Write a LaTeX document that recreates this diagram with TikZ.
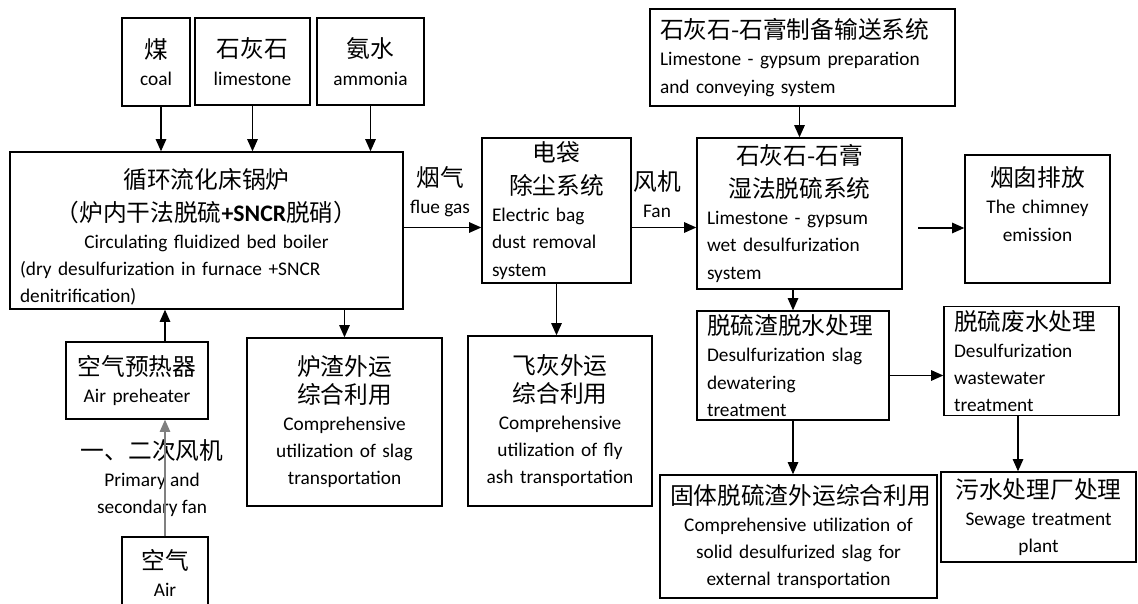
\documentclass[tikz,border=0pt]{standalone}
\usepackage{fontspec}
\setmainfont{Carlito}
\newfontfamily\cjk{Noto Sans CJK SC}
\usepackage{tikz}
\usetikzlibrary{arrows.meta}
\newcommand{\zh}{\cjk\fontsize{13.5}{18.5}\selectfont\lineskiplimit=-20pt}
\newcommand{\en}{\fontsize{11}{15.5}\selectfont\lineskiplimit=-20pt}
\newcommand{\lift}[1]{\rule[-#1]{0pt}{#1}}
\tikzset{
    box/.style={draw=black, line width=0.8pt, inner xsep=0.2cm, inner ysep=2pt, font=\en},
    cbox/.style={box, align=center},
    lbox/.style={box, align=left},
    flow/.style={draw=black, line width=0.8pt, -{Triangle[length=7pt,width=6pt]}},
    airflow/.style={flow, draw=black!50},
}

\begin{document}
\begin{tikzpicture}[x=0.02cm, y=-0.02cm]
\useasboundingbox (0,0) rectangle (1138,604);
	% inputs
	\node[cbox, text width=0.96cm, minimum height=1.76cm] (coal) at (156,62) {{\zh 煤}\\coal};
	\node[cbox, text width=1.90cm, minimum height=1.74cm] (lime) at (252.5,61.5) {{\zh 石灰石}\\limestone};
	\node[cbox, text width=1.74cm, minimum height=1.74cm] (ammo) at (370.5,61.5) {{\zh 氨水}\\ammonia};
	% boiler
	\node[lbox, text width=7.46cm, minimum height=3.06cm] (boiler) at (206.5,230.5)
		{{\centering\zh \rule{0pt}{0.66cm}循环流化床锅炉\\（炉内干法脱硫{\rmfamily\bfseries +SNCR}脱硝）\par}%
		{\centering Circulating fluidized bed boiler\par}%
		(dry desulfurization in furnace +SNCR\\denitrification)};
	\node[lbox, text width=2.58cm, minimum height=2.90cm] (dust) at (556.5,210.5)
		{{\centering\zh 电袋\\除尘系统\par}Electric bag\\dust removal\\system};
	\node[lbox, text width=5.70cm, minimum height=1.94cm] (prep) at (802.5,57.5)
		{{\zh 石灰石-石膏制备输送系统}\\Limestone - gypsum preparation\\and conveying system};
	\node[lbox, text width=3.70cm, minimum height=3.02cm] (gyp) at (799.5,213.5)
		{{\centering\zh 石灰石-石膏\\湿法脱硫系统\par}Limestone - gypsum\\wet desulfurization\\system};
	\node[cbox, text width=2.50cm, minimum height=2.56cm] (chim) at (1037.5,219)
		{{\zh 烟囱排放}\\The chimney\\emission\lift{0.6cm}};
	% lower row
	\node[cbox, text width=2.44cm, minimum height=1.54cm] (pre) at (137,380.5) {{\zh 空气预热器}\\Air preheater};
	\node[cbox, text width=1.32cm, minimum height=1.66cm] (air) at (165,578.5) {{\zh 空气}\\Air\lift{0.22cm}};
	\node[cbox, text width=3.50cm, minimum height=3.36cm] (slag) at (344.5,422)
		{{\zh 炉渣外运\\综合利用}\\Comprehensive\\utilization of slag\\transportation};
	\node[cbox, text width=3.28cm, minimum height=3.40cm] (fly) at (560,421)
		{{\zh 飞灰外运\\综合利用}\\Comprehensive\\utilization of fly\\ash transportation};
	\node[lbox, text width=3.44cm, minimum height=2.10cm] (dewater) at (793,365.5)
		{{\zh 脱硫渣脱水处理}\\Desulfurization slag\\dewatering\\treatment};
	\node[lbox, text width=3.10cm, minimum height=2.16cm] (waste) at (1031.5,361)
		{{\zh 脱硫废水处理}\\Desulfurization\\wastewater\\treatment};
	\node[cbox, text width=5.14cm, minimum height=2.46cm] (solid) at (798.5,536.5)
		{{\zh 固体脱硫渣外运综合利用}\\Comprehensive utilization of\\solid desulfurized slag for\\external transportation};
	\node[cbox, text width=3.50cm, minimum height=1.80cm] (sewage) at (1038.5,517)
		{{\zh 污水处理厂处理}\\Sewage treatment\\plant};
	% labels
	\node[align=center, font=\en] (fluelbl) at (440,192) {{\zh 烟气}\\flue gas};
	\node[align=center, font=\en] (fanlbl) at (657,194) {{\zh 风机}\\Fan};
	\node[align=center, font=\en, inner sep=0pt] (airlbl) at (152,478) {{\zh 一、二次风机}\\Primary and\\secondary fan};
	\coordinate (gypout) at (918,228);
	% connectors
	\draw[flow] ([xshift=0.1cm]coal.south) -- ([xshift=0.1cm]coal.south |- boiler.north);
	\draw[flow] (lime.south) -- (lime.south |- boiler.north);
	\draw[flow] (ammo.south) -- (ammo.south |- boiler.north);
	\draw[flow] ([yshift=0.06cm]boiler.east) -- ([yshift=0.06cm]boiler.east -| dust.west);
	\draw[flow] ([yshift=0.06cm]dust.east |- boiler.east) -- ([yshift=0.06cm]gyp.west |- boiler.east);
	\draw[flow] (prep.south -| gyp.north) -- (gyp.north);
	\draw[flow] (gypout) -- (gypout -| chim.west);
	\draw[flow] (dewater.north |- gyp.south) -- (dewater.north);
	\draw[flow] ([yshift=-0.2cm]dewater.east) -- ([yshift=-0.2cm]dewater.east -| waste.west);
	\draw[flow] (dewater.south) -- (dewater.south |- solid.north);
	\draw[flow] ([xshift=-0.27cm]waste.south) -- ([xshift=-0.27cm]waste.south |- sewage.north);
	\draw[flow] (dust.south) -- (dust.south |- fly.north);
	\draw[flow] (slag.north |- boiler.south) -- (slag.north);
	\draw[flow] (pre.north -| air.north) -- (air.north |- boiler.south);
	\draw[airflow] (air.north) -- (air.north |- pre.south);
\end{tikzpicture}
\end{document}
